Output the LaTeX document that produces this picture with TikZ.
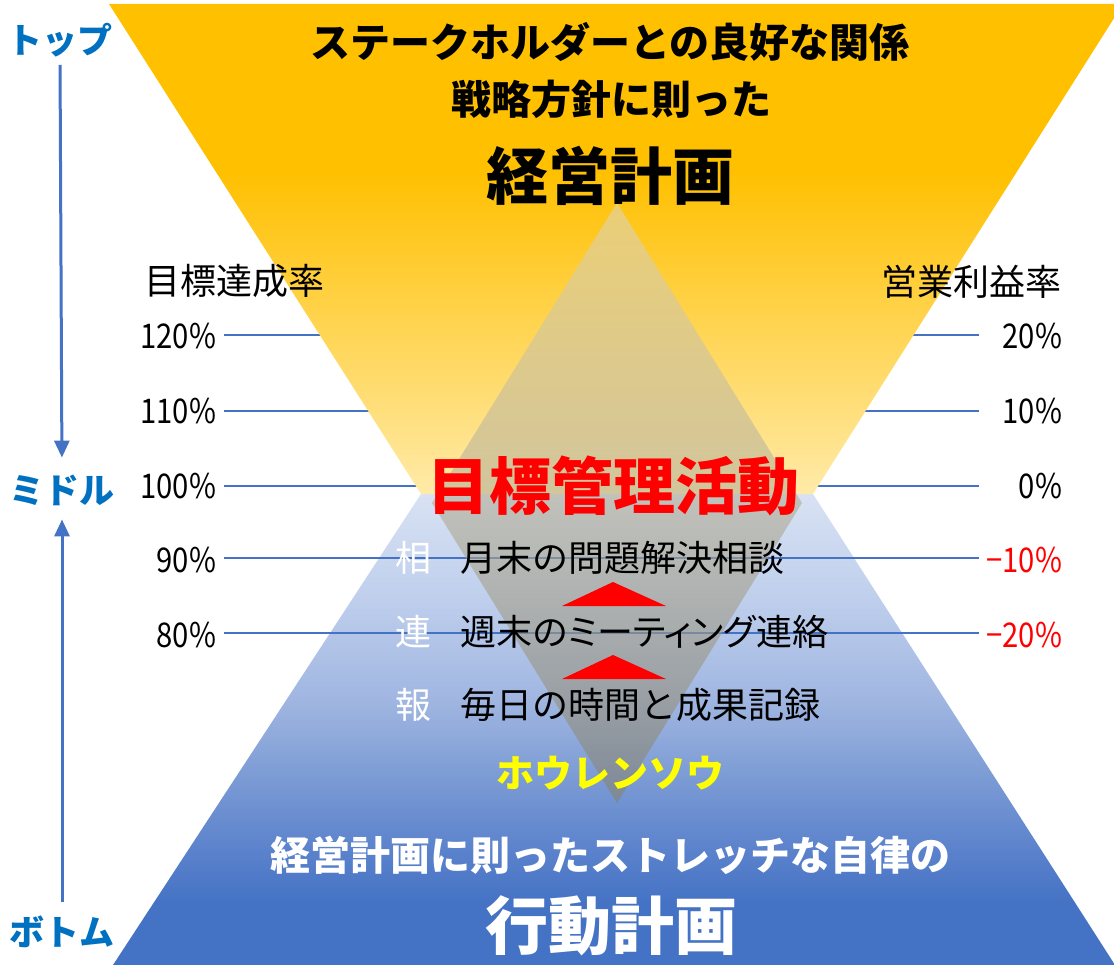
\documentclass[tikz,border=0pt]{standalone}
\usepackage{fontspec}
\setmainfont{Noto Sans CJK JP}
\newfontfamily\numfont[FakeStretch=0.86]{Noto Sans CJK JP}
\usetikzlibrary{arrows.meta}
\definecolor{ytop}{HTML}{FFC000}
\definecolor{ylow}{RGB}{255,234,168}
\definecolor{b0}{HTML}{4472C4}
\definecolor{b1}{RGB}{91,130,204}
\definecolor{b2}{RGB}{122,154,212}
\definecolor{b3}{RGB}{160,182,225}
\definecolor{b4}{RGB}{190,206,236}
\definecolor{b5}{RGB}{216,226,243}
\definecolor{sideblue}{HTML}{0070C0}
\definecolor{linecol}{HTML}{4472C4}
\definecolor{dtop}{RGB}{222,214,186}
\definecolor{dbot}{RGB}{134,130,112}
\definecolor{hyellow}{HTML}{FFFF00}
\pgfdeclareverticalshading{yshade}{100bp}{color(0bp)=(ylow); color(25bp)=(ylow); color(58bp)=(ytop); color(100bp)=(ytop)}
\pgfdeclareverticalshading{bshade}{100bp}{color(0bp)=(b0); color(31.4bp)=(b0); color(37.2bp)=(b1); color(44.6bp)=(b2); color(53.1bp)=(b3); color(63.7bp)=(b4); color(75bp)=(b5); color(100bp)=(b5)}
\tikzset{
  txt/.style={inner sep=0pt, outer sep=0pt},
  fs/.style={font=\fontsize{#1pt}{#1pt}\selectfont},
  fsb/.style={font=\fontsize{#1pt}{#1pt}\selectfont\bfseries},
  num/.style={txt, anchor=east, font=\fontsize{34pt}{34pt}\numfont},
  scaleline/.style={draw=linecol, line width=1.2pt},
  sidelbl/.style={txt, fsb=35, text=sideblue},
  sidearrow/.style={draw=linecol, line width=3pt, -{Triangle[width=15pt,length=17pt]}},
  redtri/.style={fill=red, draw=none},
}
\begin{document}
\begin{tikzpicture}[x=1pt,y=-1pt]
\useasboundingbox (0,0) rectangle (1114,965);
\clip (0,0) rectangle (1114,965);
% blue lower triangle
\shade[shading=bshade] (421,494) -- (813,494) -- (1115,965) -- (113,965) -- cycle;
% scale lines
\foreach \yy in {335,411,486,558,633} {
  \draw[scaleline] (224,\yy) -- (979,\yy);
}
% yellow upper triangle
\shade[shading=yshade] (109,4) -- (1123,4) -- (813,494) -- (421,494) -- cycle;
% diamond
\shade[top color=dtop, bottom color=dbot, fill opacity=0.6] (617,203) -- (802,503) -- (617,803) -- (432,503) -- cycle;

% top texts
\node[txt, fsb=40] (l1) at (610,42) {ステークホルダーとの良好な関係};
\node[txt, fsb=40] (l2) at (611,99) {戦略方針に則った};
\node[txt, fsb=62] (keiei) at (610,176) {経営計画};

% axis headers
\node[txt, fs=36, anchor=west] (hl) at (144,281) {目標達成率};
\node[txt, fs=36, anchor=east] (hr) at (1061,282) {営業利益率};

% left labels
\node[num] (p120) at (216,336) {120\%};
\node[num] (p110) at (216,411) {110\%};
\node[num] (p100) at (216,486) {100\%};
\node[num] (p90) at (216,560) {90\%};
\node[num] (p80) at (216,635) {80\%};
% right labels
\node[num] (r20) at (1062,336) {20\%};
\node[num] (r10) at (1062,411) {10\%};
\node[num] (r0) at (1062,486) {0\%};
\node[num, text=red] (rm10) at (1062,560) {−10\%};
\node[num, text=red] (rm20) at (1062,635) {−20\%};

% middle
\node[txt, fsb=62, text=red] (mk) at (613,486) {目標管理活動};
\node[txt, fs=36, text=white] (so) at (413,558) {相};
\node[txt, fs=36, anchor=west] (soudan) at (460,558) {月末の問題解決相談};
\node[txt, fs=36, text=white] (ren) at (413,632) {連};
\node[txt, fs=36, anchor=west] (renraku) at (460,632) {週末の{\addfontfeature{RawFeature=+palt}ミーティング}連絡};
\node[txt, fs=36, text=white] (hou) at (413,705) {報};
\node[txt, fs=36, anchor=west] (houkoku) at (460,705) {毎日の時間と成果記録};
\fill[redtri] (613,582) -- (666,606) -- (562,606) -- cycle;
\fill[redtri] (613,655) -- (666,679) -- (562,679) -- cycle;
\node[txt, fsb=38, text=hyellow] (hrs) at (610,773) {ホウレンソウ};

% bottom texts
\node[txt, fsb=40, text=white] (b1) at (610,855) {経営計画に則ったストレッチな自律の};
\node[txt, fsb=63, text=white] (b2) at (611,926) {行動計画};

% side labels and arrows
\node[sidelbl] (top) at (60,40) {トップ};
\node[sidelbl] (mid) at (62,490) {ミドル};
\node[sidelbl] (bot) at (62,932) {ボトム};
\draw[sidearrow, shorten <=8pt, shorten >=17pt] (top.south) -- (mid.north);
\draw[sidearrow, shorten <=14pt, shorten >=14pt] (bot.north) -- (mid.south);
\end{tikzpicture}
\end{document}
